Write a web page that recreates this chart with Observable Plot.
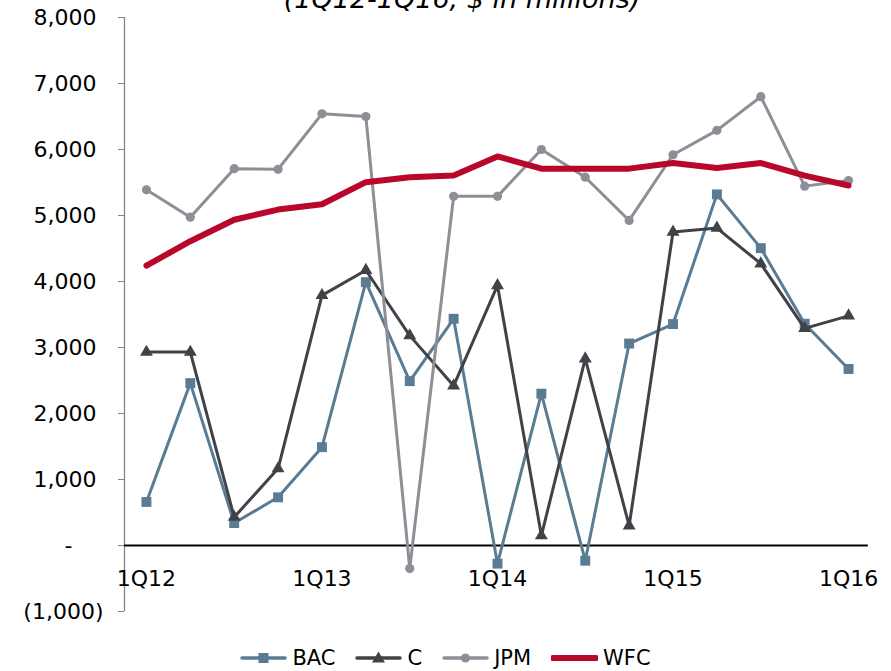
<!DOCTYPE html>
<html>
<head>
<meta charset="utf-8">
<script src="https://cdn.jsdelivr.net/npm/d3@7"></script>
<script src="https://cdn.jsdelivr.net/npm/@observablehq/plot@0.6"></script>
<style>
  html, body { margin: 0; padding: 0; background: #fff; }
  body { width: 891px; height: 671px; overflow: hidden; position: relative; font-family: "DejaVu Sans", Verdana, sans-serif; }
  #title { position: absolute; left: 0; top: 0; }
  #legend { position: absolute; left: 0; top: 642px; width: 891px; height: 31px; display: flex; justify-content: center; align-items: center; padding-left: 0px; box-sizing: border-box; }
  .item { display: flex; align-items: center; margin: 0 10px; font-size: 21px; color: #000; }
  .item svg { margin-right: 5px; }
</style>
</head>
<body>
<div id="chart"></div>
<svg id="title" width="891" height="20"><text x="462" y="8" text-anchor="middle" font-family="DejaVu Sans, Verdana, sans-serif" font-size="27" font-style="italic" fill="#000">(1Q12-1Q16, $ in millions)</text></svg>
<div id="legend"></div>
<script>
const quarters = ["1Q12","2Q12","3Q12","4Q12","1Q13","2Q13","3Q13","4Q13","1Q14","2Q14","3Q14","4Q14","1Q15","2Q15","3Q15","4Q15","1Q16"];
const xTickLabels = ["1Q12","1Q13","1Q14","1Q15","1Q16"];
const seriesNames = ["BAC","C","JPM","WFC"];
const BAC = [660, 2460, 340, 730, 1490, 3990, 2490, 3435, -275, 2300, -230, 3060, 3355, 5320, 4505, 3360, 2675];
const C   = [2930, 2930, 430, 1165, 3790, 4170, 3180, 2420, 3940, 150, 2830, 300, 4750, 4810, 4270, 3290, 3480];
const JPM = [5390, 4975, 5710, 5700, 6540, 6500, -350, 5290, 5290, 6000, 5580, 4925, 5920, 6290, 6800, 5445, 5530];
const WFC = [4240, 4610, 4935, 5090, 5170, 5505, 5580, 5605, 5895, 5710, 5710, 5710, 5795, 5720, 5795, 5605, 5455];
const yTicksPositive = [1000, 2000, 3000, 4000, 5000, 6000, 7000, 8000];
const yTickZero = [0];
const yTickNegative = [-1000];

const colors = {BAC: "#5a7b92", C: "#404247", JPM: "#8e8f96", WFC: "#b8072a"};
const widths = {BAC: 3, C: 3, JPM: 3, WFC: 6};
const symbols = {BAC: "square", C: "triangle", JPM: "circle", WFC: null};
const radii = {BAC: 5.6, C: 4.8, JPM: 4.6, WFC: 0};
const values = {BAC, C, JPM, WFC};

const rows = name => values[name].map((v, i) => ({i, v, q: quarters[i]}));

const font = "DejaVu Sans, Verdana, sans-serif";
const fs = 22;
const marks = [
  Plot.ruleX([-0.5], {y1: -1000, y2: 8000, stroke: "#868686", strokeWidth: 1.3}),
  Plot.axisY(yTicksPositive, {label: null, tickSize: 6, tickPadding: 22, tickFormat: d3.format(","), stroke: "#868686", fill: "#000", fontSize: fs, fontFamily: font}),
  Plot.axisY(yTickZero, {label: null, tickSize: 6, tickPadding: 46, tickFormat: () => "-", stroke: "#868686", fill: "#000", fontSize: fs, fontFamily: font}),
  Plot.axisY(yTickNegative, {label: null, tickSize: 6, tickPadding: 15, tickFormat: d => "(" + d3.format(",")(-d) + ")", stroke: "#868686", fill: "#000", fontSize: fs, fontFamily: font}),
  Plot.ruleY([0], {x1: -0.5, x2: 16.45, stroke: "#000", strokeWidth: 2}),
  Plot.text(xTickLabels, {x: d => quarters.indexOf(d), y: () => 0, text: d => d, dy: 33, fontSize: fs, fontFamily: font, fill: "#000"})
];
for (const name of seriesNames) {
  marks.push(Plot.line(rows(name), {x: "i", y: "v", stroke: colors[name], strokeWidth: widths[name], strokeLinejoin: "round", strokeLinecap: "round"}));
  if (symbols[name]) {
    marks.push(Plot.dot(rows(name), {x: "i", y: "v", symbol: symbols[name], r: radii[name], fill: colors[name], stroke: "none"}));
  }
}

const chart = Plot.plot({
  width: 891,
  height: 640,
  marginLeft: 124,
  marginRight: 21,
  marginTop: 17,
  marginBottom: 29,
  x: {type: "linear", domain: [-0.5, 16.5], axis: null},
  y: {type: "linear", domain: [-1000, 8000], axis: null},
  style: {fontFamily: font, fontSize: "22px", color: "#000", background: "transparent", overflow: "visible"},
  marks
});
document.getElementById("chart").appendChild(chart);

// legend
const legend = document.getElementById("legend");
for (const name of seriesNames) {
  const item = document.createElement("div");
  item.className = "item";
  const c = colors[name];
  let marker = "";
  if (symbols[name] === "square") marker = `<rect x="18.5" y="5" width="10" height="10" fill="${c}"/>`;
  if (symbols[name] === "triangle") marker = `<path d="M23.5 3.5 L30 14.5 L17 14.5 Z" fill="${c}"/>`;
  if (symbols[name] === "circle") marker = `<circle cx="23.5" cy="10" r="4.6" fill="${c}"/>`;
  item.innerHTML = `<svg width="47" height="20"><line x1="2" y1="10" x2="45" y2="10" stroke="${c}" stroke-width="${name === "WFC" ? 6 : 3.5}" stroke-linecap="round"/>${marker}</svg><span>${name}</span>`;
  legend.appendChild(item);
}
</script>
</body>
</html>
